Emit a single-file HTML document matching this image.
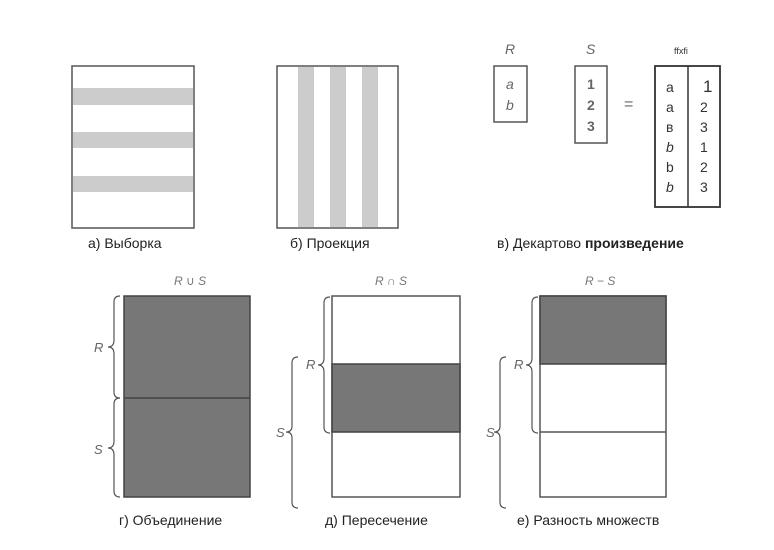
<!DOCTYPE html>
<html><head><meta charset="utf-8"><style>
body{margin:0;background:#fff}
svg text{font-family:"Liberation Sans","DejaVu Sans",sans-serif}
</style></head><body>
<svg width="774" height="545" viewBox="0 0 774 545" xmlns="http://www.w3.org/2000/svg">
<g stroke="#555" stroke-width="1.5" fill="none">
<rect x="72" y="66" width="122" height="162" fill="#fff"/>
<rect x="73" y="88" width="120" height="17" fill="#ccc" stroke="none"/>
<rect x="73" y="132" width="120" height="16" fill="#ccc" stroke="none"/>
<rect x="73" y="176" width="120" height="16" fill="#ccc" stroke="none"/>
</g>
<text x="88" y="248" font-size="14" fill="#222">а) Выборка</text>
<g stroke="#555" stroke-width="1.5" fill="none">
<rect x="277" y="66" width="121" height="162" fill="#fff"/>
<rect x="298" y="67" width="16" height="160" fill="#ccc" stroke="none"/>
<rect x="330" y="67" width="16" height="160" fill="#ccc" stroke="none"/>
<rect x="362" y="67" width="16" height="160" fill="#ccc" stroke="none"/>
</g>
<text x="290" y="248" font-size="14" fill="#222">б) Проекция</text>
<g font-size="14" fill="#333">
<text x="505" y="54" font-style="italic" fill="#666">R</text>
<text x="586" y="54" font-style="italic" fill="#666">S</text>
<text x="674" y="54" font-size="9">ffxfi</text>
<rect x="494" y="66" width="33" height="56" fill="none" stroke="#555" stroke-width="1.5"/>
<text x="506" y="89" font-style="italic" fill="#666">a</text>
<text x="506" y="110" font-style="italic" fill="#666">b</text>
<rect x="575" y="66" width="32" height="77" fill="none" stroke="#555" stroke-width="1.5"/>
<text x="587" y="89" font-weight="bold" fill="#666">1</text>
<text x="587" y="110" font-weight="bold" fill="#666">2</text>
<text x="587" y="131" font-weight="bold" fill="#666">3</text>
<text x="624" y="109" font-size="16" fill="#666">=</text>
<rect x="655" y="66" width="65" height="141" fill="none" stroke="#333" stroke-width="1.8"/>
<line x1="688" y1="66" x2="688" y2="207" stroke="#333" stroke-width="1.5"/>
<text x="666" y="92">a</text><text x="703" y="92" font-size="17">1</text>
<text x="666" y="112">a</text><text x="700" y="112">2</text>
<text x="666" y="132">в</text><text x="700" y="132">3</text>
<text x="666" y="152" font-style="italic">b</text><text x="700" y="152">1</text>
<text x="666" y="172">b</text><text x="700" y="172">2</text>
<text x="666" y="192" font-style="italic">b</text><text x="700" y="192">3</text>
</g>
<text x="497" y="248" font-size="14" fill="#222">в) Декартово <tspan font-weight="bold">произведение</tspan></text>
<g>
<text x="174" y="285" font-size="12" font-style="italic" fill="#777">R ∪ S</text>
<rect x="124" y="296" width="126" height="201" fill="#777" stroke="#444" stroke-width="1.5"/>
<line x1="124" y1="398" x2="250" y2="398" stroke="#444" stroke-width="1.5"/>
<path d="M120,296 Q114,296 114,302 L114,340 Q114,347 108,347 Q114,347 114,354 L114,392 Q114,398 120,398" fill="none" stroke="#555" stroke-width="1.2"/>
<path d="M120,398 Q114,398 114,404 L114,441 Q114,448 108,448 Q114,448 114,455 L114,491 Q114,497 120,497" fill="none" stroke="#555" stroke-width="1.2"/>
<text x="94" y="352" font-size="13" font-style="italic" fill="#666">R</text>
<text x="94" y="454" font-size="13" font-style="italic" fill="#666">S</text>
</g>
<text x="119" y="525" font-size="14" fill="#222">г) Объединение</text>
<g>
<text x="375" y="285" font-size="12" font-style="italic" fill="#777">R ∩ S</text>
<rect x="332" y="296" width="128" height="201" fill="#fff" stroke="#555" stroke-width="1.5"/>
<rect x="332" y="364" width="128" height="68" fill="#777" stroke="#444" stroke-width="1.5"/>
<path d="M330,297 Q324,297 324,303 L324,358 Q324,365 318,365 Q324,365 324,372 L324,427 Q324,433 330,433" fill="none" stroke="#555" stroke-width="1.2"/>
<path d="M298,357 Q292,357 292,363 L292,426 Q292,432 286,432 Q292,432 292,438 L292,502 Q292,508 298,508" fill="none" stroke="#555" stroke-width="1.2"/>
<text x="306" y="369" font-size="13" font-style="italic" fill="#666">R</text>
<text x="276" y="437" font-size="13" font-style="italic" fill="#666">S</text>
</g>
<text x="325" y="525" font-size="14" fill="#222">д) Пересечение</text>
<g>
<text x="585" y="285" font-size="12" font-style="italic" fill="#777">R − S</text>
<rect x="540" y="296" width="126" height="201" fill="#fff" stroke="#555" stroke-width="1.5"/>
<rect x="540" y="296" width="126" height="68" fill="#777" stroke="#444" stroke-width="1.5"/>
<line x1="540" y1="432" x2="666" y2="432" stroke="#555" stroke-width="1.5"/>
<path d="M538,297 Q532,297 532,303 L532,358 Q532,365 526,365 Q532,365 532,372 L532,427 Q532,433 538,433" fill="none" stroke="#555" stroke-width="1.2"/>
<path d="M506,357 Q500,357 500,363 L500,426 Q500,432 494,432 Q500,432 500,438 L500,502 Q500,508 506,508" fill="none" stroke="#555" stroke-width="1.2"/>
<text x="514" y="369" font-size="13" font-style="italic" fill="#666">R</text>
<text x="486" y="437" font-size="13" font-style="italic" fill="#666">S</text>
</g>
<text x="517" y="525" font-size="14" fill="#222">е) Разность множеств</text>
</svg>
</body></html>
